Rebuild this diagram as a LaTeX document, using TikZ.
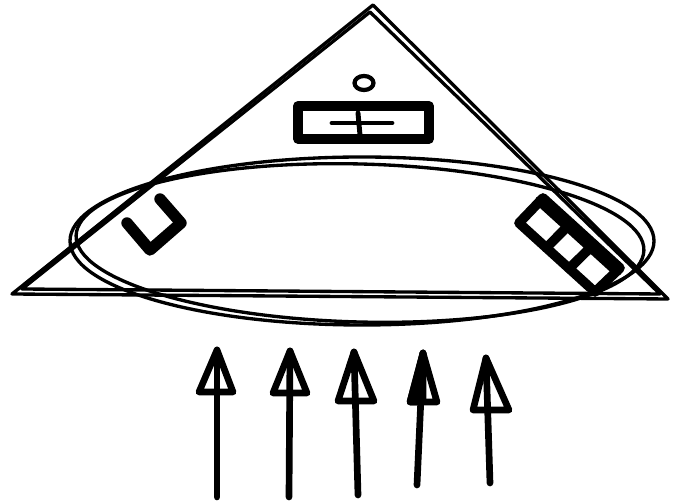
\documentclass[tikz,border=0pt]{standalone}
\usetikzlibrary{calc}
\tikzset{
  thinstroke/.style={line width=1.9pt, line join=round, line cap=round},
  boldstroke/.style={line width=5.5pt, line join=round, line cap=round},
  arrowstroke/.style={line width=3.8pt, line join=round, line cap=round},
}
\begin{document}
\begin{tikzpicture}[x=0.02cm,y=-0.02cm]
\useasboundingbox (0,0) rectangle (673,502);
% triangle (double hand-drawn stroke)
\draw[thinstroke] (373,5) -- (12,294) -- (668,299) -- cycle;
\draw[thinstroke] (370,12) -- (22,289) -- (660,294) -- cycle;
% ellipse (double stroke)
\draw[thinstroke] (362,241) ellipse [x radius=292, y radius=84];
\draw[thinstroke, rotate around={-1.5:(360,243)}] (360,243) ellipse [x radius=284, y radius=79];
% top box with plus and small circle
\draw[boldstroke] (298,106) rectangle (429,139);
\draw[line width=2.8pt, line cap=round] (332,123) -- (392,123);
\draw[line width=2.8pt, line cap=round] (358,113) -- (360,135);
\draw[line width=2.4pt] (364,83) ellipse [x radius=9.5, y radius=7];
% U shape
\draw[line width=6.5pt, line cap=round, line join=round]
  (127,223) -- (150,250) -- (181,223) -- (160,199);
% right box with three cells
\coordinate (A) at (519,223);
\coordinate (B) at (543,198);
\coordinate (C) at (620,268);
\coordinate (D) at (595,292);
\draw[boldstroke] (A) -- (B) -- (C) -- (D) -- cycle;
\draw[line width=6pt, line cap=round] ($(B)!0.12!(A)$) -- ($(C)!0.12!(D)$);
\draw[boldstroke] ($(A)!0.36!(D)$) -- ($(B)!0.36!(C)$);
\draw[boldstroke] ($(A)!0.66!(D)$) -- ($(B)!0.66!(C)$);
% arrows
\coordinate (t1) at (217,350); \coordinate (b1) at (217,497);
\coordinate (t2) at (290,351); \coordinate (b2) at (289,497);
\coordinate (t3) at (354,352); \coordinate (b3) at (358,495);
\coordinate (t4) at (423,353); \coordinate (b4) at (417,485);
\coordinate (t5) at (486,358); \coordinate (b5) at (490,483);
\draw[arrowstroke] (b1) -- (t1);
\draw[arrowstroke] (b2) -- (t2);
\draw[arrowstroke] (b3) -- (t3);
\draw[arrowstroke] (b4) -- (t4);
\draw[arrowstroke] (b5) -- (t5);
\draw[arrowstroke] (t1) -- (199,392) -- (233,392) -- cycle;
\draw[arrowstroke] (t2) -- (273,393) -- (307,393) -- cycle;
\draw[arrowstroke] (t3) -- (338,401) -- (374,401) -- cycle;
\draw[arrowstroke, fill=black] (t4) -- (410,402) -- (423,402) -- cycle;
\draw[arrowstroke] (t4) -- (410,402) -- (437,402) -- cycle;
\draw[arrowstroke] (t5) -- (473,410) -- (509,410) -- cycle;
\end{tikzpicture}
\end{document}
